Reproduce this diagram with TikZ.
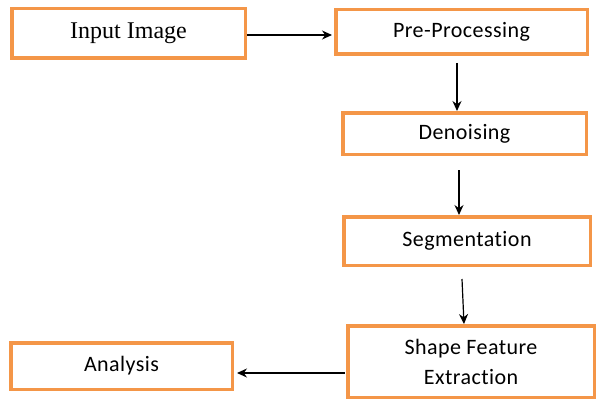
\documentclass[tikz,border=0pt]{standalone}
\usepackage{fontspec}
\setmainfont[Ligatures=NoCommon,LetterSpace=2]{Carlito}
\newfontfamily\serifface{Liberation Serif}
\usetikzlibrary{arrows.meta}
\definecolor{boxorange}{RGB}{244,150,72}
\tikzset{
  box/.style={draw=boxorange, line width=3.5pt, fill=white, inner sep=0pt,
    align=center, font=\fontsize{22}{30}\selectfont},
  arr/.style={draw=black, line width=1.2pt, -{Stealth[length=10pt,width=9pt]}}
}
\begin{document}
\begin{tikzpicture}[x=1pt,y=1pt]
\useasboundingbox (0,0) rectangle (600,-404);
\node[box, minimum width=233.5pt, minimum height=49.5pt, font=\serifface\fontsize{24}{28}\selectfont] (inp) at (128.5,-33.5) {Input Image};
\node[box, minimum width=251.5pt, minimum height=44.5pt] (pre) at (461.5,-32) {Pre-Processing};
\node[box, minimum width=243.5pt, minimum height=41.5pt] (den) at (464.5,-133.5) {Denoising};
\node[box, minimum width=246.5pt, minimum height=48.5pt] (seg) at (467,-241) {Segmentation};
\node[box, minimum width=246.5pt, minimum height=71.5pt] (shp) at (471,-361.5) {Shape Feature\\Extraction};
\node[box, minimum width=221.5pt, minimum height=46.5pt] (ana) at (121.5,-366) {Analysis};

\draw[arr, shorten >=2pt] ([yshift=-1.5pt]inp.east) coordinate (a1) -- (a1 -| pre.west);
\draw[arr] ([xshift=-4.5pt,yshift=-7pt]pre.south) -- ([xshift=-7.5pt]den.north);
\draw[arr] ([xshift=-5.5pt,yshift=-14pt]den.south) -- ([xshift=-8pt]seg.north);
\draw[arr] ([xshift=-5pt,yshift=-12pt]seg.south) -- ([xshift=-7pt]shp.north);
\draw[arr, shorten >=3pt] ([xshift=-1pt,yshift=-11.5pt]shp.west) coordinate (a5) -- (a5 -| ana.east);
\end{tikzpicture}
\end{document}
